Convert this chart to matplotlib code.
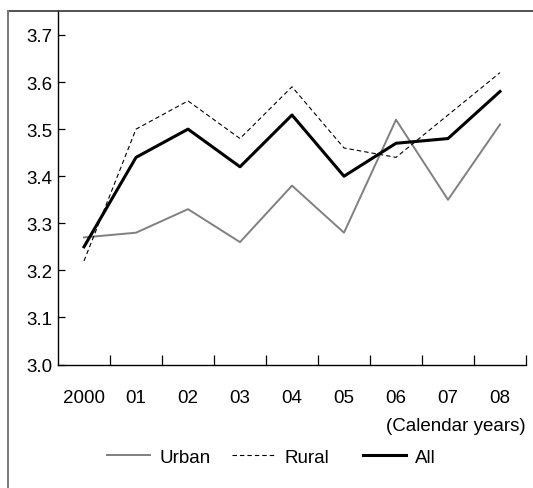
import matplotlib
matplotlib.use("Agg")
import matplotlib.pyplot as plt
from matplotlib.lines import Line2D
import numpy as np

plt.rcParams['font.family'] = ['Liberation Sans', 'DejaVu Sans']

years = ["2000", "01", "02", "03", "04", "05", "06", "07", "08"]
urban = [3.27, 3.28, 3.33, 3.26, 3.38, 3.28, 3.52, 3.35, 3.51]
rural = [3.22, 3.50, 3.56, 3.48, 3.59, 3.46, 3.44, 3.53, 3.62]
all_ = [3.25, 3.44, 3.50, 3.42, 3.53, 3.40, 3.47, 3.48, 3.58]
yticks = [3.0, 3.1, 3.2, 3.3, 3.4, 3.5, 3.6, 3.7]

FS = 13.5
W, H = 533, 489
fig = plt.figure(figsize=(W/100, H/100), dpi=100)
ax_bottom, ax_top = 365.5, 12
ax = fig.add_axes([58/W, 1-ax_bottom/H, (526-58)/W, (ax_bottom-ax_top)/H])

x = np.arange(len(years))
l1, = ax.plot(x, urban, color='#808080', lw=1.4, label='Urban')
l2, = ax.plot(x, rural, color='black', lw=0.8, ls=(0, (4, 2.7)), label='Rural')
l3, = ax.plot(x, all_, color='black', lw=2.2, label='All')

ax.set_xlim(-0.5, 8.5)
ax.set_ylim(3.0, 3.0 + 0.7*(ax_bottom-ax_top)/(ax_bottom-36))
ax.set_yticks(yticks)
ax.set_yticklabels([f"{v:.1f}" for v in yticks], fontsize=FS)
ax.set_xticks(x)
ax.set_xticklabels(years, fontsize=FS)
ax.set_xticks(np.arange(0.5, 9, 1), minor=True)
ax.tick_params(axis='x', which='major', length=0, pad=18)
ax.tick_params(axis='x', which='minor', direction='in', length=7, width=0.9)
ax.tick_params(axis='y', which='major', direction='in', length=5, width=0.9, pad=4)
for s in ['top', 'right']:
    ax.spines[s].set_visible(False)
for s in ['left', 'bottom']:
    ax.spines[s].set_linewidth(1.0)

fig.text(526/W, 1-427/H, "(Calendar years)", ha='right', va='center', fontsize=FS)

leg_y = 1 - 458/H
for h, lab, x0 in [(l1, 'Urban', 106.7), (l2, 'Rural', 231.7), (l3, 'All', 363)]:
    fig.legend([h], [lab], loc='center left', bbox_to_anchor=(x0/W, leg_y),
               frameon=False, fontsize=FS, handlelength=43/18.75, handletextpad=0.5,
               borderpad=0, borderaxespad=0)

fig.add_artist(Line2D([7.5/W, 1.0], [1-12/H, 1-12/H], color='#333333', lw=1.2, transform=fig.transFigure))
fig.add_artist(Line2D([7.5/W, 7.5/W], [0, 1-12/H], color='#777777', lw=1.4, transform=fig.transFigure))

fig.savefig("out.png", dpi=100)
